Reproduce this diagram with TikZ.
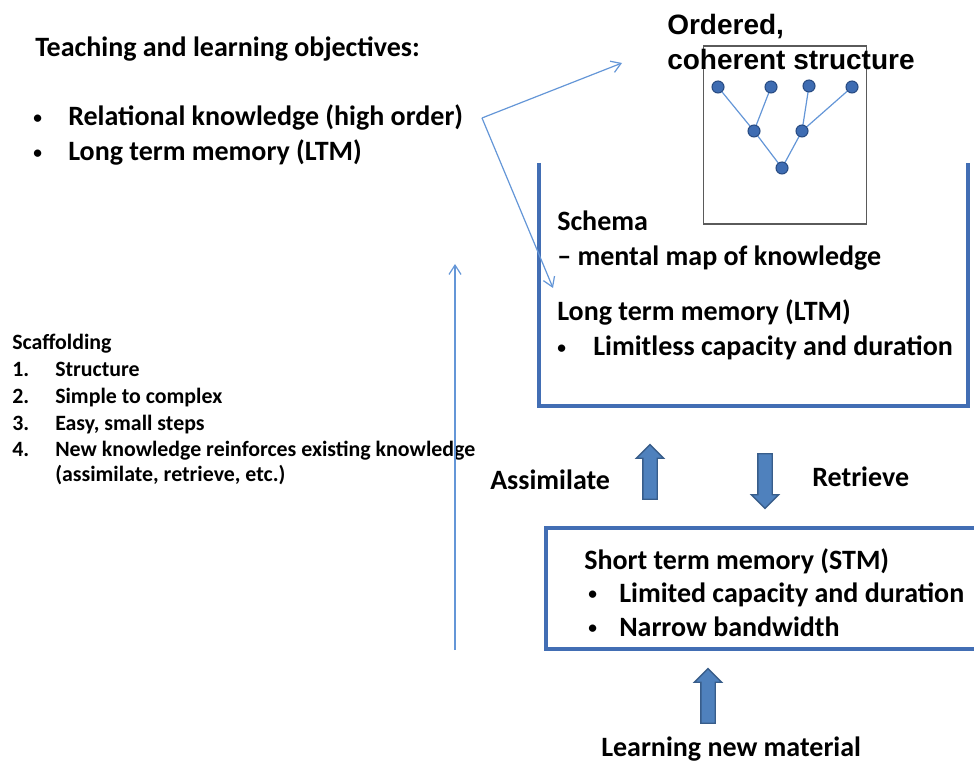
\documentclass[tikz,border=0pt]{standalone}
\usepackage{fontspec}
\setmainfont{Carlito}
\newfontfamily\arialfont{Liberation Sans}
\usetikzlibrary{arrows.meta,shapes.arrows}
\definecolor{thickblue}{RGB}{66,110,180}
\definecolor{thinblue}{RGB}{100,150,215}
\definecolor{arrowfill}{RGB}{79,129,189}
\definecolor{arrowedge}{RGB}{56,93,138}
\definecolor{dotfill}{RGB}{62,108,178}
\definecolor{dotedge}{RGB}{40,75,130}
\definecolor{boxgrey}{RGB}{90,90,90}
\newcommand{\smbul}{\raisebox{1.6pt}{\fontsize{13pt}{13pt}\selectfont\textbullet}}
\tikzset{
  bigtxt/.style={anchor=base west, inner sep=0pt, font=\fontsize{21pt}{25pt}\selectfont\bfseries},
  smalltxt/.style={anchor=base west, inner sep=0pt, font=\fontsize{16.4pt}{19pt}\selectfont\bfseries},
  arialtxt/.style={anchor=base west, inner sep=0pt, font=\fontsize{21pt}{25pt}\selectfont\arialfont\bfseries},
  thickline/.style={draw=thickblue, line width=2.4pt},
  thinarrow/.style={draw=thinblue, line width=0.9pt, -{Straight Barb[length=7pt,width=9pt]}},
  fatarrow/.style={single arrow, draw=arrowedge, fill=arrowfill, line width=1pt, inner xsep=0pt,
    inner ysep=4.875pt, single arrow head extend=4.875pt, minimum height=41pt},
  treedot/.style={circle, fill=dotfill, draw=dotedge, line width=0.8pt, minimum size=9pt, inner sep=0pt},
  treeedge/.style={draw=thinblue, line width=0.9pt},
}
\begin{document}
\begin{tikzpicture}[x=0.75pt, y=-0.75pt]
\useasboundingbox (0,0) rectangle (974,762);

% left texts
\node[bigtxt] (obj) at (35,57) {Teaching and learning objectives:};
\node[bigtxt] (b1) at (33,126) {\smbul};
\node[bigtxt] (rel) at (68,126) {Relational knowledge (high order)};
\node[bigtxt] (b2) at (33,161) {\smbul};
\node[bigtxt] (ltml) at (68,161) {Long term memory (LTM)};

% scaffolding
\node[smalltxt] (sc) at (12,350) {Scaffolding};
\node[smalltxt] (n1) at (12,377) {1.};
\node[smalltxt] (s1) at (55,377) {Structure};
\node[smalltxt] (n2) at (12,404) {2.};
\node[smalltxt] (s2) at (55,404) {Simple to complex};
\node[smalltxt] (n3) at (12,431) {3.};
\node[smalltxt] (s3) at (55,431) {Easy, small steps};
\node[smalltxt] (n4) at (12,457) {4.};
\node[smalltxt] (s4) at (55,457) {New knowledge reinforces existing knowledge};
\node[smalltxt] (s4b) at (55,481) {(assimilate, retrieve, etc.)};

% structure box and title
\node[draw=boxgrey, line width=1.4pt, minimum width=163*0.75pt, minimum height=178*0.75pt, inner sep=0pt] (sq) at (785,135) {};
\node[arialtxt] (ord) at (667,35) {Ordered,};
\node[arialtxt] (coh) at (667,70) {coherent structure};

% tree
\coordinate (t1) at (718,87);
\coordinate (t2) at (771,87);
\coordinate (t3) at (809,86);
\coordinate (t4) at (852,87);
\coordinate (m1) at (754,131);
\coordinate (m2) at (802,131);
\coordinate (r) at (782,168);
\draw[treeedge] (t1) -- (m1) -- (t2);
\draw[treeedge] (t3) -- (m2) -- (t4);
\draw[treeedge] (m1) -- (r) -- (m2);
\foreach \p in {t1,t2,t3,t4,m1,m2,r} \node[treedot] (d\p) at (\p) {};

% LTM container
\coordinate (ltmtl) at (539,163);
\coordinate (ltmbl) at (539,406);
\coordinate (ltmbr) at (968,406);
\coordinate (ltmtr) at (968,163);
\draw[thickline] (ltmtl) -- (ltmbl) -- (ltmbr) -- (ltmtr);

\node[bigtxt] (sch) at (557,231) {Schema};
\node[bigtxt] (mm) at (557,266) {– mental map of knowledge};
\node[bigtxt] (ltmr) at (557,321) {Long term memory (LTM)};
\node[bigtxt] (b3) at (557,356) {\smbul};
\node[bigtxt] (lim) at (593,356) {Limitless capacity and duration};

% thin arrows
\coordinate (vx) at (482,118);
\coordinate (tipup) at (622,63);
\coordinate (tipdn) at (553,288);
\draw[thinarrow] (vx) -- (tipup);
\draw[thinarrow] (vx) -- (tipdn);
\coordinate (vbot) at (455,650);
\coordinate (vtop) at (455,264);
\draw[thinarrow] (vbot) -- (vtop);

% assimilate / retrieve
\node[fatarrow, rotate=90] (up) at (650,475.5) {};
\node[fatarrow, rotate=-90] (dn) at (765,477.5) {};
\node[bigtxt] (ass) at (490,489) {Assimilate};
\node[bigtxt] (ret) at (812,486) {Retrieve};

% STM box
\coordinate (stmtl) at (546,528);
\coordinate (stmbr) at (990,649);
\draw[thickline] (stmtl) rectangle (stmbr);
\node[bigtxt] (stm) at (584,569) {Short term memory (STM)};
\node[bigtxt] (b4) at (588,602) {\smbul};
\node[bigtxt] (lcd) at (619,602) {Limited capacity and duration};
\node[bigtxt] (b5) at (588,636) {\smbul};
\node[bigtxt] (nb) at (619,636) {Narrow bandwidth};

% learning new material
\node[fatarrow, rotate=90] (lup) at (708,699.5) {};
\node[bigtxt] (lnm) at (601,756) {Learning new material};
\end{tikzpicture}
\end{document}
